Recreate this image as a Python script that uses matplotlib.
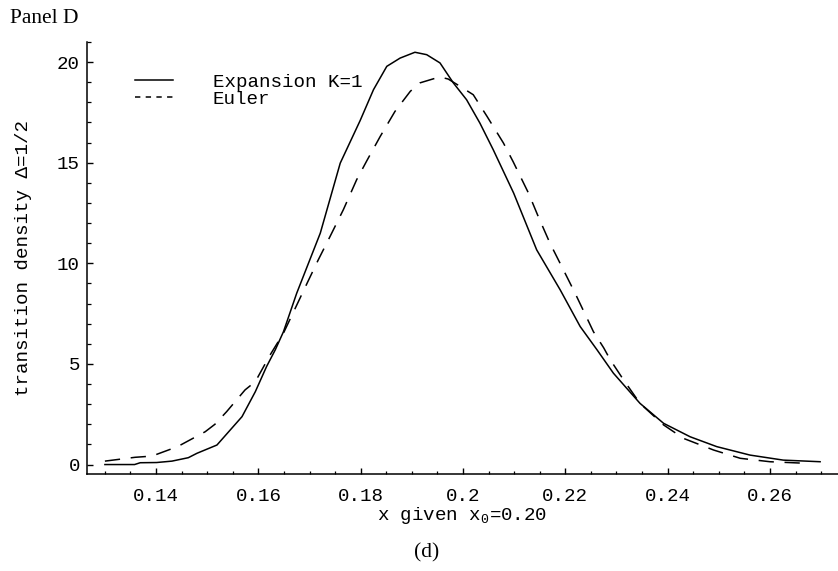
import matplotlib
matplotlib.use("Agg")
import matplotlib.pyplot as plt
from matplotlib.lines import Line2D
from matplotlib.ticker import MultipleLocator, FixedLocator

# ---- data ----
exp_x = [0.1300, 0.1358, 0.1369, 0.1401, 0.1431, 0.1463, 0.1480, 0.1519, 0.1568, 0.1594,
         0.1616, 0.1633, 0.1649, 0.1675, 0.1721, 0.1760, 0.1799, 0.1825, 0.1851, 0.1877,
         0.1906, 0.1929, 0.1955, 0.1981, 0.2007, 0.2033, 0.2059, 0.2099, 0.2144, 0.2190,
         0.2229, 0.2262, 0.2294, 0.2346, 0.2392, 0.2444, 0.2496, 0.2561, 0.2626, 0.2698]
exp_y = [0.00, 0.00, 0.09, 0.10, 0.17, 0.34, 0.56, 0.97, 2.38, 3.62,
         4.87, 5.70, 6.60, 8.52, 11.50, 14.98, 17.10, 18.63, 19.79, 20.20,
         20.49, 20.37, 19.96, 18.97, 18.13, 16.97, 15.65, 13.49, 10.67, 8.68,
         6.86, 5.70, 4.54, 3.04, 2.05, 1.38, 0.89, 0.47, 0.22, 0.14]

eul_x = [0.1300, 0.1359, 0.1392, 0.1442, 0.1496, 0.1515, 0.1538, 0.1574, 0.1594, 0.1623,
         0.1649, 0.1695, 0.1717, 0.1740, 0.1766, 0.1792, 0.1812, 0.1838, 0.1867, 0.1897,
         0.1916, 0.1946, 0.1955, 0.1971, 0.1994, 0.2020, 0.2047, 0.2079, 0.2098, 0.2128,
         0.2147, 0.2170, 0.2193, 0.2219, 0.2255, 0.2275, 0.2288, 0.2314, 0.2346, 0.2392,
         0.2431, 0.2490, 0.2542, 0.2600, 0.2672]
eul_y = [0.17, 0.36, 0.42, 0.89, 1.63, 2.00, 2.63, 3.71, 4.12, 5.45,
         6.53, 9.00, 10.17, 11.33, 12.66, 14.15, 15.10, 16.30, 17.55, 18.55,
         18.97, 19.20, 19.26, 19.16, 18.80, 18.38, 17.30, 15.98, 15.05, 13.49,
         12.33, 11.00, 9.84, 8.52, 6.60, 5.80, 5.20, 4.20, 3.04, 1.97,
         1.30, 0.72, 0.31, 0.14, 0.06]

x_ticks = [0.14, 0.16, 0.18, 0.20, 0.22, 0.24, 0.26]
x_tick_labels = ["0.14", "0.16", "0.18", "0.2", "0.22", "0.24", "0.26"]
y_ticks = [0, 5, 10, 15, 20]
y_tick_labels = ["0", "5", "10", "15", "20"]
series_labels = ["Expansion K=1", "Euler"]

# ---- style ----
plt.rcParams['mathtext.fontset'] = 'custom'
plt.rcParams['mathtext.rm'] = 'Liberation Mono'
plt.rcParams['mathtext.it'] = 'Liberation Mono'
MONO = ['Liberation Mono', 'DejaVu Sans Mono']
SERIF = ['Liberation Serif', 'DejaVu Serif']
FS = 13.8

fig = plt.figure(figsize=(8.38, 5.71), dpi=100)
ax = fig.add_axes([87/838, 1 - 474/571, 751/838, 432/571])

lw = 1.1
ax.plot(exp_x, exp_y, color='black', lw=lw, solid_joinstyle='round')
ax.plot(eul_x, eul_y, color='black', lw=lw, linestyle=(0, (10, 7)))

ax.set_xlim(0.1265, 0.2733)
ax.set_ylim(-0.47, 21.0)

for s in ['top', 'right']:
    ax.spines[s].set_visible(False)
for s in ['left', 'bottom']:
    ax.spines[s].set_linewidth(1.1)

ax.xaxis.set_major_locator(FixedLocator(x_ticks))
ax.set_xticklabels(x_tick_labels, family=MONO, fontsize=FS)
ax.yaxis.set_major_locator(FixedLocator(y_ticks))
ax.set_yticklabels(y_tick_labels, family=MONO, fontsize=FS)
ax.xaxis.set_minor_locator(MultipleLocator(0.005))
ax.yaxis.set_minor_locator(MultipleLocator(1))
ax.tick_params(axis='x', which='major', direction='in', length=4, width=1.0, pad=10)
ax.tick_params(axis='x', which='minor', direction='in', length=2.2, width=0.9)
ax.tick_params(axis='y', which='major', direction='in', length=4, width=1.0, pad=5)
ax.tick_params(axis='y', which='minor', direction='in', length=2.6, width=0.9)

ax.set_xlabel(r"x given x$_\mathregular{0}$=0.20", family=MONO, fontsize=FS, labelpad=0)
ax.set_ylabel("transition density \u0394=1/2", family=MONO, fontsize=FS, labelpad=18)

handles = [Line2D([], [], color='black', lw=lw),
           Line2D([], [], color='black', lw=lw, linestyle=(0, (3.5, 3.5)))]
ax.legend(handles, series_labels, loc='upper left', bbox_to_anchor=(0.0639, 0.928),
          frameon=False, borderpad=0, borderaxespad=0, handlelength=1.98,
          handletextpad=2.08, labelspacing=0.0, prop={'family': MONO, 'size': FS})

fig.text(10/838, 1 - 23/571, "Panel D", family=SERIF, fontsize=15.5, va='baseline', ha='left')
fig.text(427/838, 1 - 557/571, "(d)", family=SERIF, fontsize=15.5, va='baseline', ha='center')

fig.savefig("out.png", dpi=100)
